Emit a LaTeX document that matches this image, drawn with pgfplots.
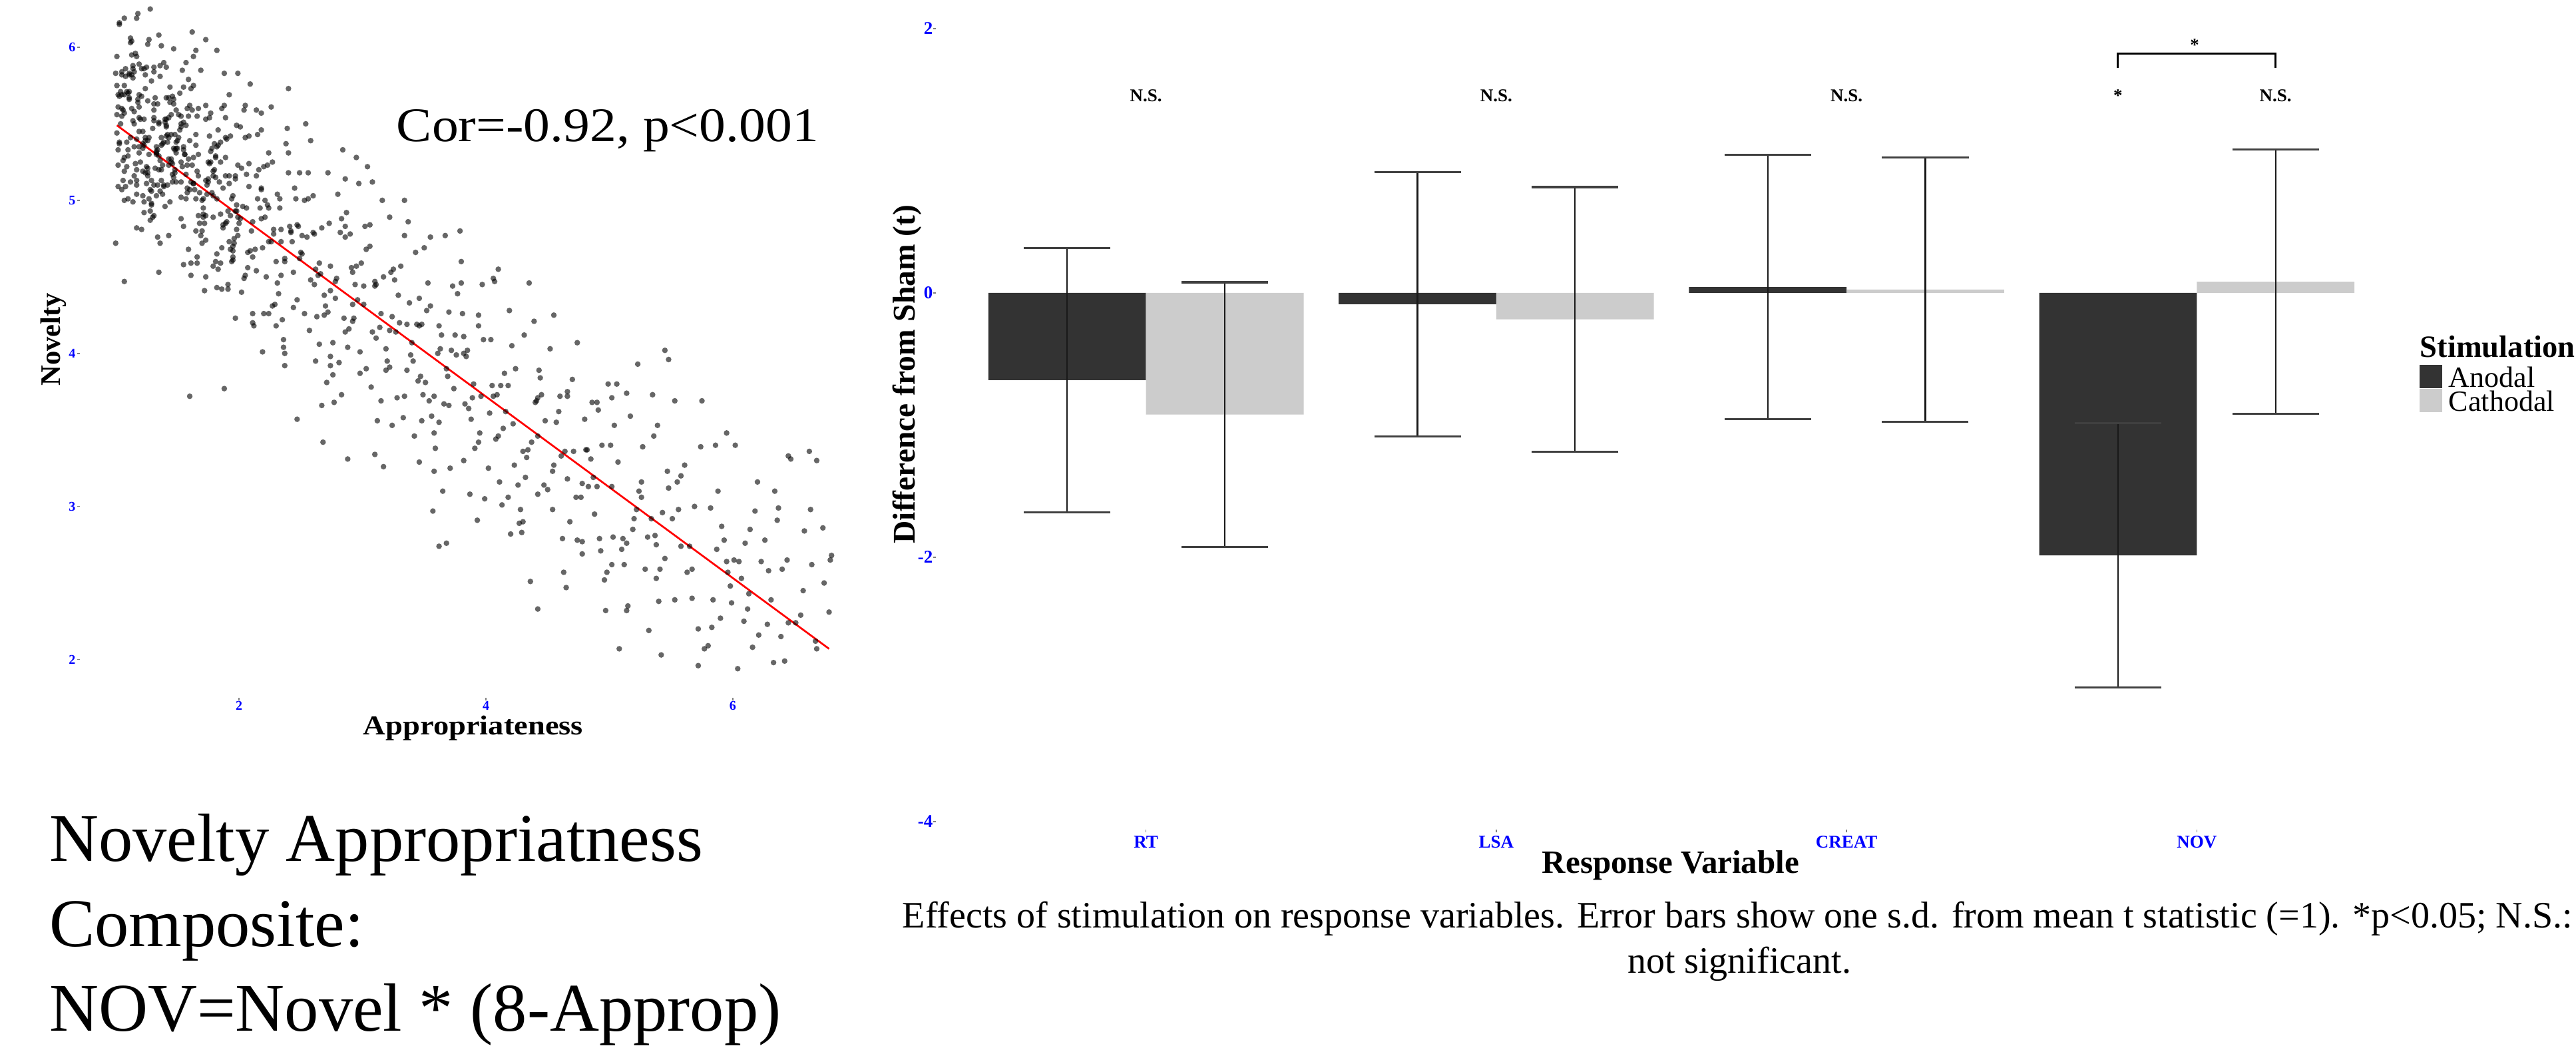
\documentclass[border=0pt]{standalone}
\usepackage{pgfplots}
\pgfplotsset{compat=1.18}
\usepackage{fontspec}
\setmainfont{Liberation Serif}
\usepackage{graphicx}
\definecolor{dark}{HTML}{333333}
\definecolor{light}{HTML}{CCCCCC}
\definecolor{tickblue}{HTML}{0000FF}
\newcommand\fs[1]{\fontsize{#1}{#1}\selectfont}

\pgfplotstableread{
x y
1.03 5.68
1.17 5.10
1.08 5.81
1.22 5.34
1.12 6.03
1.01 5.56
1.19 5.69
1.06 5.26
1.14 5.52
1.24 5.82
1.10 5.01
1.04 5.71
1.20 5.25
1.15 5.58
1.07 6.19
1.23 5.36
1.11 5.83
1.02 5.23
1.18 5.66
1.09 5.38
1.13 5.95
1.21 4.81
1.05 5.60
1.16 5.24
1.00 5.83
1.24 5.39
1.12 6.06
1.08 5.09
1.19 5.61
1.03 5.38
1.15 5.84
1.22 5.45
1.06 5.13
1.11 5.71
1.17 6.19
1.01 5.44
1.20 5.53
1.09 5.22
1.14 5.80
1.04 5.50
1.23 5.86
1.07 5.00
1.18 5.64
1.12 5.41
1.02 5.61
1.16 5.96
1.10 5.29
1.21 5.68
1.05 5.07
1.13 5.60
1.24 5.41
1.08 5.86
1.19 5.31
1.03 6.16
1.15 5.16
1.11 5.66
1.22 5.19
1.06 5.59
1.17 5.40
1.01 5.94
1.28 5.07
1.40 5.53
1.47 5.15
1.31 5.84
1.36 4.72
1.42 5.38
1.26 5.18
1.45 5.56
1.34 5.33
1.39 5.90
1.29 4.97
1.48 5.43
1.32 5.21
1.43 5.67
1.37 5.36
1.27 5.01
1.41 5.53
1.35 6.08
1.46 5.17
1.30 5.47
1.38 5.04
1.49 5.59
1.33 5.32
1.44 5.74
1.28 4.87
1.40 5.51
1.36 5.26
1.47 5.34
1.31 5.87
1.42 5.10
1.26 5.65
1.28 4.93
1.42 5.43
1.33 5.35
1.47 5.63
1.37 5.20
1.26 6.02
1.44 4.99
1.31 5.54
1.39 5.09
1.49 5.34
1.35 5.29
1.29 5.78
1.45 5.43
1.40 4.96
1.32 5.67
1.48 5.18
1.36 5.88
1.27 5.41
1.43 5.54
1.34 5.10
1.38 5.37
1.46 5.68
1.30 4.89
1.41 5.48
1.25 5.22
1.49 5.38
1.37 6.01
1.33 5.30
1.44 5.64
1.60 5.07
1.54 5.22
1.70 4.80
1.65 5.43
1.57 5.17
1.73 5.62
1.61 4.59
1.52 5.46
1.68 5.05
1.59 5.27
1.63 5.75
1.71 4.89
1.55 5.51
1.66 4.63
1.50 5.39
1.74 5.10
1.62 5.59
1.58 5.05
1.69 5.85
1.53 4.88
1.65 5.36
1.72 4.85
1.56 5.30
1.61 5.12
1.67 5.60
1.51 5.41
1.70 4.72
1.59 5.55
1.64 5.07
1.54 5.85
1.73 5.13
1.57 5.49
1.68 4.85
1.62 5.23
1.52 5.70
1.66 4.59
1.60 5.39
1.71 4.91
1.55 5.35
1.63 5.94
1.74 5.04
1.58 5.60
1.69 4.77
1.53 5.48
1.65 5.01
1.61 5.73
1.72 4.41
1.56 5.30
1.67 4.90
1.51 5.56
1.98 4.97
1.82 5.35
1.93 4.68
1.87 5.08
1.77 5.57
1.91 4.42
1.85 5.25
1.96 4.75
1.80 5.20
1.88 5.83
1.99 4.89
1.83 5.46
1.94 4.60
1.78 5.34
1.90 4.86
1.86 5.60
1.97 4.23
1.81 5.15
1.92 4.73
1.76 5.42
1.78 5.05
1.92 5.69
1.83 4.55
1.97 5.16
1.87 4.84
1.76 5.54
1.94 5.01
1.81 4.60
1.89 5.28
1.99 5.83
1.85 4.91
1.79 5.19
1.95 4.63
1.90 5.40
1.82 5.01
1.98 5.49
1.86 4.42
1.77 5.32
1.93 4.90
1.84 5.12
1.88 5.62
1.96 4.72
1.80 5.37
1.91 4.45
1.75 5.25
2.01 5.48
2.19 4.01
2.06 4.95
2.14 4.54
2.24 4.95
2.10 4.80
2.04 5.59
2.20 4.26
2.15 5.01
2.07 4.66
2.23 5.23
2.11 4.86
2.02 4.40
2.18 5.07
2.09 5.76
2.13 4.68
2.21 4.89
2.05 4.51
2.16 5.20
2.00 4.85
2.24 5.31
2.12 4.18
2.08 5.09
2.19 4.69
2.03 4.96
2.15 5.43
2.22 4.50
2.06 5.17
2.11 4.26
2.17 4.95
2.01 4.88
2.20 5.22
2.09 4.67
2.14 5.59
2.04 4.49
2.23 4.97
2.07 4.56
2.18 4.88
2.49 5.18
2.37 4.00
2.33 4.95
2.44 4.53
2.28 4.81
2.40 5.31
2.47 4.35
2.31 5.04
2.36 4.09
2.42 4.80
2.26 4.73
2.45 5.08
2.34 4.51
2.39 5.47
2.29 4.32
2.48 4.83
2.32 4.39
2.43 4.73
2.37 4.60
2.27 5.25
2.41 4.83
2.35 4.22
2.46 5.01
2.30 4.60
2.38 5.37
2.49 4.62
2.33 5.01
2.44 4.30
2.28 4.78
2.40 5.18
2.36 4.04
2.47 4.84
2.31 4.46
2.42 4.79
2.26 5.61
2.66 4.52
2.60 5.03
2.71 3.81
2.55 4.76
2.63 4.24
2.74 4.57
2.58 5.39
2.69 4.38
2.53 5.00
2.65 4.06
2.61 4.78
2.72 4.27
2.56 5.18
2.67 3.66
2.51 4.65
2.53 4.26
2.67 4.82
2.58 4.48
2.72 5.18
2.62 3.95
2.51 4.77
2.69 4.25
2.56 5.01
2.64 4.51
2.74 3.92
2.60 4.79
2.54 5.50
2.70 4.31
2.65 4.59
2.57 4.15
2.73 4.85
2.61 4.45
2.86 4.83
2.92 4.32
2.76 3.86
2.95 4.57
2.84 5.33
2.89 4.16
2.79 4.49
2.98 3.87
2.82 4.79
2.93 4.23
2.87 4.92
2.77 3.68
2.91 4.56
2.85 4.23
2.96 4.35
2.80 5.04
2.88 4.04
2.99 4.59
2.83 3.73
2.94 4.45
2.78 4.36
2.90 4.78
2.86 4.14
2.97 5.11
2.81 3.94
2.92 4.53
2.76 4.07
2.78 4.47
2.92 4.21
2.83 4.88
3.24 4.24
3.08 5.12
3.19 4.03
3.03 4.68
3.15 3.69
3.11 4.45
3.22 3.91
3.06 4.84
3.17 3.26
3.01 4.32
3.03 3.90
3.17 4.50
3.08 4.14
3.22 4.89
3.12 3.56
3.01 4.44
3.19 3.89
3.06 4.70
3.14 4.17
3.24 3.53
3.10 4.47
3.04 5.22
3.20 3.95
3.15 4.26
3.07 3.78
3.23 4.53
3.11 4.10
3.02 4.83
3.48 4.19
3.36 3.89
3.27 4.14
3.43 4.66
3.34 3.72
3.38 4.33
3.46 3.29
3.30 4.20
3.41 3.95
3.25 4.55
3.49 3.73
3.37 4.86
3.33 3.58
3.44 4.19
3.28 3.71
3.40 4.07
3.47 3.85
3.31 4.57
3.36 4.19
3.42 3.46
3.26 4.48
3.45 3.82
3.34 4.77
3.39 3.99
3.29 4.38
3.48 3.56
3.63 4.03
3.71 3.25
3.55 4.31
3.66 3.67
3.50 4.69
3.74 3.77
3.62 4.18
3.58 3.48
3.69 3.85
3.53 4.46
3.65 3.10
3.72 4.02
3.56 3.59
3.61 4.00
3.67 4.77
3.51 3.81
3.70 4.27
3.59 3.38
3.64 4.12
3.54 3.69
3.73 4.44
3.57 2.97
3.68 3.90
3.62 3.55
3.52 4.28
3.83 3.67
3.97 4.45
3.87 3.08
3.76 3.99
3.94 3.42
3.81 4.26
3.89 3.71
3.99 3.05
3.85 4.02
3.79 4.80
3.95 3.48
3.90 3.80
3.82 3.30
3.98 4.09
3.86 3.64
3.77 4.39
3.93 2.91
3.84 3.98
3.88 3.57
3.96 3.72
3.80 4.46
3.91 3.38
3.75 4.12
4.20 2.82
4.09 3.73
4.14 3.51
4.04 4.09
4.23 3.27
4.07 4.47
4.18 3.06
4.12 3.79
4.02 3.25
4.16 3.62
4.10 3.46
4.21 4.05
4.05 3.79
4.13 3.01
4.24 3.90
4.08 3.44
4.19 4.28
4.03 3.61
4.15 3.87
4.11 3.16
4.22 3.54
4.33 3.32
4.44 3.84
4.28 2.98
4.40 3.68
4.47 3.14
4.31 4.12
4.36 2.51
4.42 3.46
4.26 3.14
4.45 3.73
4.34 3.37
4.39 4.21
4.29 2.83
4.48 3.56
4.32 3.19
4.43 3.89
4.37 3.42
4.27 2.89
4.41 3.69
4.35 4.46
4.64 3.36
4.74 2.78
4.60 3.72
4.54 3.23
4.70 3.83
4.65 2.47
4.57 3.55
4.73 3.06
4.61 3.33
4.52 4.03
4.68 2.90
4.59 3.62
4.63 2.57
4.71 3.36
4.55 3.27
4.66 3.72
4.50 3.11
4.74 4.07
4.62 2.79
4.98 2.57
4.82 3.37
4.93 2.71
4.87 3.19
4.77 3.06
4.91 3.63
4.85 3.31
4.96 2.52
4.80 3.57
4.88 2.95
4.99 3.80
4.83 3.13
4.94 3.40
4.78 2.77
4.90 3.13
4.86 3.68
4.97 2.32
4.81 3.37
4.92 2.79
5.03 2.80
5.17 3.59
5.08 2.07
5.22 2.98
5.12 2.62
5.01 3.40
5.19 2.85
5.06 3.80
5.14 2.32
5.24 3.10
5.10 2.72
5.04 3.53
5.20 2.92
5.15 2.35
5.07 3.29
5.23 3.93
5.11 2.79
5.02 3.13
5.40 2.38
5.47 3.23
5.31 2.80
5.36 3.46
5.42 2.03
5.26 3.16
5.45 2.66
5.34 2.92
5.39 3.53
5.29 2.59
5.48 3.12
5.32 2.19
5.43 2.96
5.37 2.81
5.27 3.39
5.41 2.59
5.35 3.73
5.55 3.16
5.63 2.57
5.74 3.39
5.58 2.74
5.69 3.00
5.53 2.39
5.65 2.74
5.61 3.27
5.72 1.96
5.56 2.98
5.67 2.40
5.51 2.92
5.53 3.69
5.67 2.59
5.58 3.20
5.72 2.20
5.95 2.64
5.90 2.27
5.82 2.99
5.98 2.48
5.86 3.40
5.77 2.07
5.93 2.78
5.84 2.39
5.88 3.10
5.96 2.57
5.80 2.09
5.91 2.87
5.75 3.69
5.99 2.37
5.87 2.72
5.83 2.21
6.01 2.65
6.20 3.16
6.09 2.25
6.14 2.85
6.04 1.94
6.23 2.64
6.07 2.53
6.18 2.97
6.12 2.33
6.02 3.40
6.16 2.08
6.10 2.76
6.21 2.16
6.05 2.64
6.13 2.43
6.37 2.99
6.33 1.98
6.44 2.65
6.28 2.23
6.40 2.59
6.47 3.31
6.31 2.39
6.36 2.91
6.42 1.99
6.26 2.78
6.45 2.24
6.34 3.10
6.39 2.15
6.29 2.58
6.64 2.62
6.51 2.24
6.73 2.86
6.57 2.45
6.67 2.12
6.79 2.65
6.62 3.36
6.55 2.29
6.74 2.50
6.68 2.07
6.58 2.84
6.78 2.31
6.63 2.98
1.31 5.10
1.15 5.50
1.47 5.66
1.23 4.92
1.05 5.69
1.37 5.13
1.19 5.54
1.27 6.05
1.43 5.23
1.11 5.82
1.33 5.03
1.01 5.75
1.49 5.12
1.25 5.87
1.17 4.82
1.39 5.38
1.07 5.28
1.31 5.63
1.45 5.25
1.13 6.04
1.23 4.99
1.35 5.50
1.03 5.37
1.41 5.67
1.19 5.45
1.29 4.98
1.09 5.71
1.47 5.99
1.15 5.35
1.37 5.41
1.25 5.11
1.05 5.84
1.33 5.31
1.21 5.86
1.43 4.77
1.11 5.67
1.27 5.30
1.49 5.31
1.17 5.94
1.39 5.10
1.07 5.75
1.31 4.90
1.23 5.53
1.45 5.27
1.13 5.82
1.35 5.20
1.03 6.15
1.07 5.19
1.35 5.51
1.17 5.20
1.79 5.03
1.59 4.68
1.97 5.14
1.65 5.98
1.87 4.82
1.75 5.14
1.55 4.83
1.83 5.36
1.71 5.01
1.93 5.42
1.61 4.51
1.77 5.25
1.99 4.77
1.67 5.16
1.89 5.54
1.57 5.01
1.81 5.29
1.73 4.50
1.95 5.03
1.63 5.11
1.85 5.38
1.53 5.02
1.57 5.90
1.85 4.59
1.67 5.30
1.95 4.61
1.75 5.12
1.53 5.12
1.89 5.41
1.63 5.28
1.79 4.57
1.99 5.23
1.71 4.95
1.59 5.79
1.91 4.93
1.81 5.28
1.65 4.80
1.97 4.93
1.73 5.53
1.55 4.58
1.00 4.72
1.07 4.47
1.60 3.72
1.88 3.77
1.35 4.53
2.47 3.57
2.68 3.42
2.88 3.31
3.62 2.74
3.68 2.76
4.42 2.33
5.45 4.02
5.48 3.96
1.62 6.10
1.28 6.25
1.18 6.22
1.73 6.05
1.82 5.98
2.40 5.73
2.18 5.57
3.16 5.00
3.55 4.76
4.10 4.55
5.95 3.48
6.45 3.33
6.68 3.30
6.80 2.68
2.95 5.28
3.80 4.60
4.55 4.25
1.53 5.25
1.14 5.88
1.26 5.16
1.41 5.49
1.02 5.09
1.48 5.33
1.22 5.37
1.34 5.63
1.10 5.33
1.55 5.74
1.17 5.13
1.43 5.41
1.29 5.13
1.05 5.55
1.38 5.23
1.24 5.73
1.50 5.34
1.12 5.12
1.31 5.59
1.58 5.08
1.19 5.89
1.46 5.24
1.07 5.69
1.36 5.06
1.26 5.39
1.53 5.55
1.14 4.99
1.41 5.42
1.02 5.33
1.07 5.57
1.41 5.87
1.19 5.35
1.53 5.50
1.29 5.06
1.02 5.69
1.46 5.12
1.14 5.86
1.34 4.76
1.58 5.23
1.24 5.18
1.10 5.70
1.48 5.20
1.36 5.81
1.17 5.04
1.55 5.33
1.26 5.21
1.05 5.82
1.43 5.27
1.22 5.03
1.31 5.52
1.79 4.89
2.05 5.41
2.37 4.62
1.92 5.16
1.73 4.74
2.24 4.73
2.08 5.24
1.82 4.43
2.34 4.81
1.95 4.67
1.66 5.19
2.18 5.46
1.89 4.85
2.02 5.21
2.27 4.31
1.76 5.24
2.11 4.63
1.60 5.62
2.37 3.92
1.98 4.93
1.86 4.69
2.21 5.00
1.70 5.00
2.08 5.42
2.30 4.18
1.79 5.16
1.95 4.70
2.14 5.16
1.63 5.11
2.24 4.26
1.89 5.16
2.05 5.62
1.73 4.90
2.34 4.73
1.82 4.65
2.18 5.08
1.98 4.81
1.66 5.55
2.11 4.20
1.92 5.11
2.74 4.41
4.66 3.75
3.58 3.72
4.06 4.49
5.02 2.62
3.10 4.44
4.42 3.08
2.50 4.66
5.38 2.75
3.94 4.25
3.46 4.18
4.78 2.69
2.86 4.76
4.30 3.36
5.14 3.74
3.22 4.15
3.82 4.11
4.54 2.98
2.62 4.55
4.90 3.68
3.58 3.23
4.18 3.79
2.98 4.01
5.26 3.06
3.34 5.00
4.66 3.18
3.94 4.18
2.74 3.98
4.42 3.71
3.70 3.66
5.02 3.71
3.10 3.34
4.06 3.72
5.38 2.53
3.46 4.36
4.78 3.15
2.86 5.14
4.30 2.90
3.82 4.00
5.14 2.76
}\scatterdata

\begin{document}
\begin{tikzpicture}
\useasboundingbox (0,0) rectangle (774pt,-315.4pt);
\clip (0,0) rectangle (774pt,-315.4pt);

% ---------- scatter plot ----------
\begin{axis}[
  at={(24pt,-209.6pt)}, anchor=south west,
  scale only axis, width=236.6pt, height=209.6pt,
  xmin=0.71, xmax=7.09, ymin=1.75, ymax=6.309,
  axis line style={draw=none},
  tick align=outside, xtick pos=bottom, ytick pos=left,
  major tick length=0.8pt,
  tick style={black!50, line width=0.3pt},
  xtick={2,4,6}, ytick={2,3,4,5,6},
  xticklabels={2,4,6}, yticklabels={2,3,4,5,6},
  ticklabel style={font=\bfseries\fs{4}, text=tickblue},
  xticklabel style={yshift=3.2pt},
  yticklabel style={xshift=3pt},
]
\addplot[only marks, mark=*, mark size=0.85pt,
  mark options={line width=0pt, draw opacity=0, fill=black, fill opacity=0.6}] table[x=x, y=y] {\scatterdata};
\addplot[red, line width=0.55pt, mark=none] coordinates {(1.01,5.49) (6.78,2.07)};
\end{axis}

% ---------- bar chart ----------
\begin{axis}[
  at={(281.2pt,-249.2pt)}, anchor=south west,
  scale only axis, width=442pt, height=243pt,
  xmin=0.4, xmax=4.6, ymin=-4.06, ymax=2.06,
  axis line style={draw=none},
  tick align=outside, xtick pos=bottom, ytick pos=left,
  major tick length=0.8pt,
  tick style={black!50, line width=0.3pt},
  xtick={1,2,3,4}, xticklabels={RT,LSA,CREAT,NOV},
  ytick={-4,-2,0,2}, yticklabels={-4,-2,0,2},
  ticklabel style={font=\bfseries\fs{5.4}, text=tickblue},
  xticklabel style={yshift=2.4pt},
  yticklabel style={xshift=3.4pt},
  clip=false,
]
\addplot[ybar, bar width=0.45, bar shift=0pt, fill=dark, draw=none,
  error bars/.cd, y dir=both, y explicit,
  error bar style={line width=0.45pt, black!90},
  error mark options={rotate=90, mark size=13pt, line width=0.65pt, black!75}]
  coordinates {(0.775,-0.66) +- (0,1) (1.775,-0.085) +- (0,1) (2.775,0.045) +- (0,1) (3.775,-1.985) +- (0,1)};
\addplot[ybar, bar width=0.45, bar shift=0pt, fill=light, draw=none,
  error bars/.cd, y dir=both, y explicit,
  error bar style={line width=0.45pt, black!90},
  error mark options={rotate=90, mark size=13pt, line width=0.65pt, black!75}]
  coordinates {(1.225,-0.92) +- (0,1) (2.225,-0.2) +- (0,1) (3.225,0.025) +- (0,1) (4.225,0.085) +- (0,1)};
\addplot[black, line width=0.6pt, mark=none] coordinates {(3.775,1.70) (3.775,1.81) (4.225,1.81) (4.225,1.70)};
\node[font=\bfseries\fs{5.4}, anchor=base, inner sep=0] at (axis cs:1,1.45) {N.S.};
\node[font=\bfseries\fs{5.4}, anchor=base, inner sep=0] at (axis cs:2,1.45) {N.S.};
\node[font=\bfseries\fs{5.4}, anchor=base, inner sep=0] at (axis cs:3,1.45) {N.S.};
\node[font=\bfseries\fs{5.4}, anchor=base, inner sep=0] at (axis cs:3.775,1.45) {*};
\node[font=\bfseries\fs{5.4}, anchor=base, inner sep=0] at (axis cs:4.225,1.45) {N.S.};
\node[font=\bfseries\fs{5.4}, anchor=base, inner sep=0] at (axis cs:3.994,1.83) {*};
\end{axis}

% ---------- texts (pixel coordinates) ----------
\begin{scope}[x=0.2pt, y=-0.2pt]
\node[anchor=base west, inner sep=0] at (73,1294) {\fs{20.5}Novelty Appropriatness};
\node[anchor=base west, inner sep=0] at (73,1422) {\fs{20.5}Composite:};
\node[anchor=base west, inner sep=0] at (73,1549) {\fs{20.5}NOV=Novel * (8-Approp)};
\node[anchor=base west, inner sep=0] at (595,213) {\resizebox{126.8pt}{\height}{\fs{14.5}Cor=-0.92, p<0.001}};
\node[anchor=base, inner sep=0] at (711,1104) {\resizebox{66pt}{\height}{\bfseries\fs{8.2}Appropriateness}};
\node[rotate=90, inner sep=0] at (80,510) {\bfseries\fs{8.5}Novelty};
\node[rotate=90, inner sep=0] at (1363,562) {\bfseries\fs{9.5}Difference from Sham (t)};
\node[anchor=base, inner sep=0] at (2510,1312) {\bfseries\fs{9.8}Response Variable};
\node[anchor=base west, inner sep=0] at (1355,1394) {\fs{11.2}Effects of stimulation on response variables. Error bars show one s.d. from mean t statistic (=1). *p<0.05; N.S.:};
\node[anchor=base, inner sep=0] at (2613,1462) {\fs{11.2}not significant.};
\node[anchor=base west, inner sep=0] at (3635,537) {\bfseries\fs{9.3}Stimulation};
\fill[dark] (3635,548) rectangle (3669,583);
\fill[light] (3635,584) rectangle (3669,619);
\node[anchor=base west, inner sep=0] at (3678,582) {\fs{8.8}Anodal};
\node[anchor=base west, inner sep=0] at (3678,618) {\fs{8.8}Cathodal};
\end{scope}
\end{tikzpicture}
\end{document}
